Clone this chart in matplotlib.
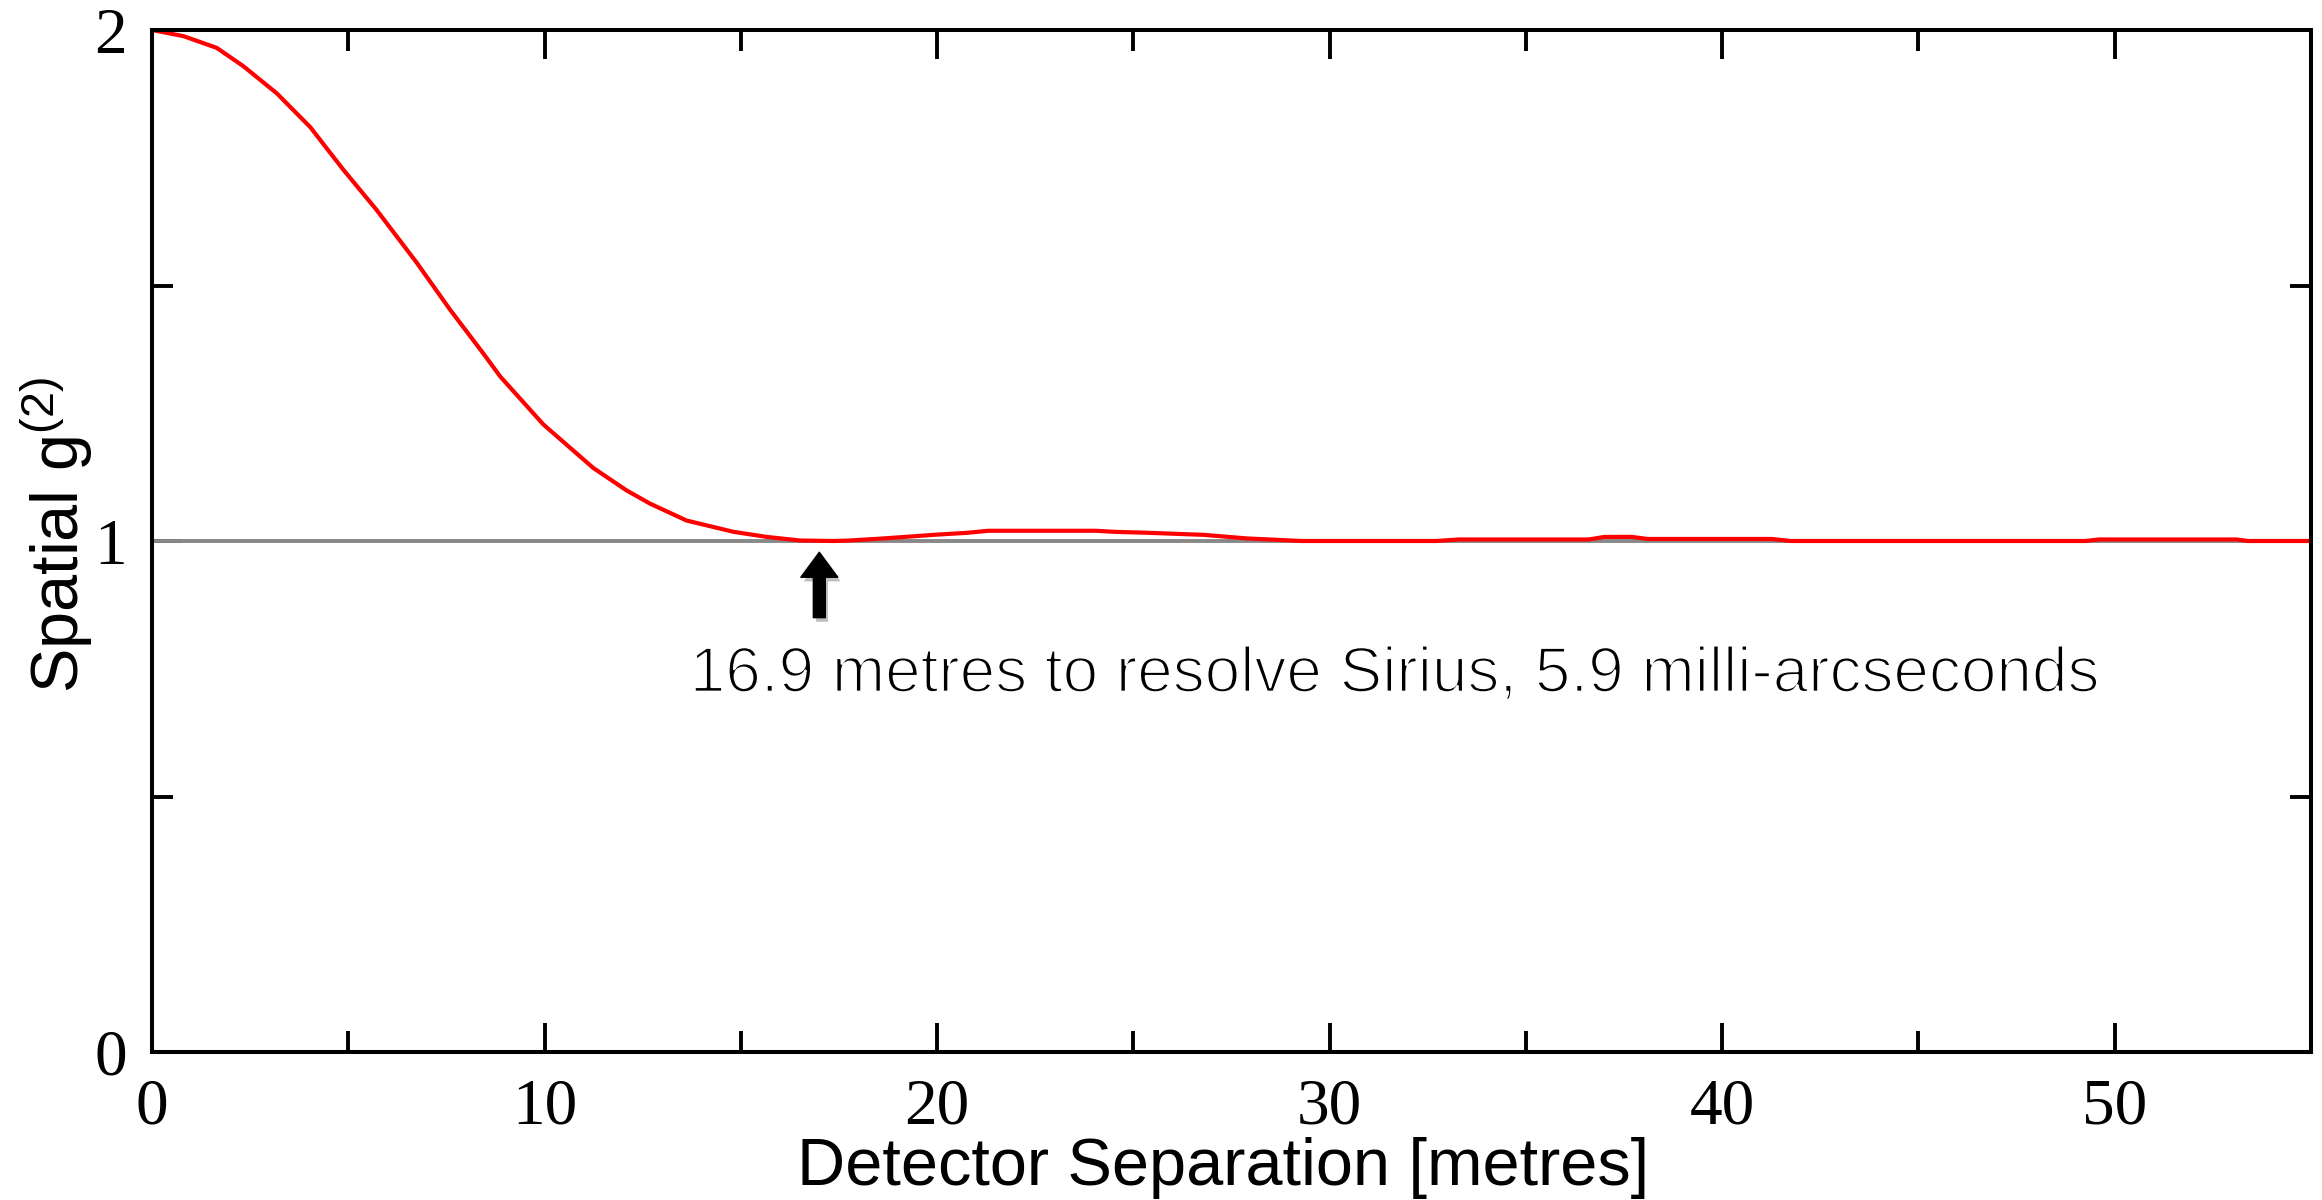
import matplotlib
matplotlib.use("Agg")
import matplotlib.pyplot as plt
import matplotlib.patheffects as pe
from matplotlib.ticker import MultipleLocator

# ---- data ----
separation_m = [0.0, 0.8, 1.65, 2.33, 3.18, 4.03, 4.87, 5.72, 6.74, 7.59, 8.44, 8.87,
                9.97, 11.24, 12.09, 12.69, 13.62, 14.81, 15.66, 16.51, 17.36, 17.78,
                18.63, 19.9, 20.76, 21.3, 24.05, 24.5, 25.4, 26.8, 27.9, 29.3, 32.7,
                33.3, 36.6, 37.0, 37.7, 38.1, 41.25, 41.75, 49.25, 49.6, 53.1, 53.4, 55.0]
g2_values = [2.0, 1.988, 1.965, 1.929, 1.876, 1.81, 1.727, 1.648, 1.545, 1.453, 1.367, 1.322,
             1.228, 1.143, 1.099, 1.073, 1.040, 1.018, 1.008, 1.001, 1.0, 1.001,
             1.005, 1.012, 1.016, 1.02, 1.02, 1.018, 1.016, 1.012, 1.005, 1.0, 1.0,
             1.003, 1.003, 1.008, 1.008, 1.004, 1.004, 1.0, 1.0, 1.003, 1.003, 1.0, 1.0]
baseline_x = [0.0, 55.0]
baseline_y = [1.0, 1.0]
x_ticks = [0, 10, 20, 30, 40, 50]
y_ticks = [0, 1, 2]
arrow_x = 17.0
arrow_from_y = 0.85
arrow_to_y = 0.978
annotation = "16.9 metres to resolve Sirius, 5.9 milli-arcseconds"
x_label = "Detector Separation [metres]"
y_label = "Spatial g$^{(2)}$"

plt.rcParams['mathtext.default'] = 'regular'

fig = plt.figure(figsize=(23.22, 12), dpi=100)
ax = fig.add_axes([152/2322, (1200-1052)/1200, 2159/2322, 1022/1200])

ax.plot(baseline_x, baseline_y, color='#888888', lw=2.8, zorder=2, solid_capstyle='butt')
ax.plot(separation_m, g2_values, color='#ff0000', lw=3.0, zorder=3)

ax.set_xlim(0, 55)
ax.set_ylim(0, 2)
ax.set_xticks(x_ticks)
ax.set_yticks(y_ticks)
ax.xaxis.set_minor_locator(MultipleLocator(5))
ax.yaxis.set_minor_locator(MultipleLocator(0.5))
ax.tick_params(which='both', direction='in', top=True, right=True, width=2.8, color='black')
ax.tick_params(which='major', length=21)
ax.tick_params(which='minor', length=15)
ax.tick_params(axis='x', which='major', pad=19)
ax.tick_params(axis='y', which='major', pad=18)
for lab in ax.get_xticklabels() + ax.get_yticklabels():
    lab.set_fontfamily('Liberation Serif')
    lab.set_fontsize(47)
for sp in ax.spines.values():
    sp.set_linewidth(2.9)
    sp.set_zorder(5)

ax.set_xlabel(x_label, fontsize=48, family='Liberation Sans', va='baseline')
ax.xaxis.set_label_coords((1223-152)/2159, (1052-1185)/1022)
ax.set_ylabel(y_label, fontsize=48, family='Liberation Sans', rotation_mode='anchor',
              ha='left', va='baseline')
ax.yaxis.set_label_coords((79-152)/2159, (1052-693)/1022)

ann = ax.annotate('', xy=(arrow_x, arrow_to_y), xytext=(arrow_x, arrow_from_y),
                  arrowprops=dict(arrowstyle='simple,head_length=0.9,head_width=1.33,tail_width=0.43',
                                  mutation_scale=20, color='black', shrinkA=0, shrinkB=0))
ann.arrow_patch.set_path_effects([pe.SimplePatchShadow(offset=(2, -3), shadow_rgbFace='#000000', alpha=0.25),
                                  pe.Normal()])

txt = ax.text(13.7, 0.705, annotation, fontsize=46, family='Liberation Sans',
              color='black', va='baseline', ha='left')
txt.set_path_effects([pe.Normal(), pe.Stroke(linewidth=1.6, foreground='white')])

fig.savefig('out.png', dpi=100)
